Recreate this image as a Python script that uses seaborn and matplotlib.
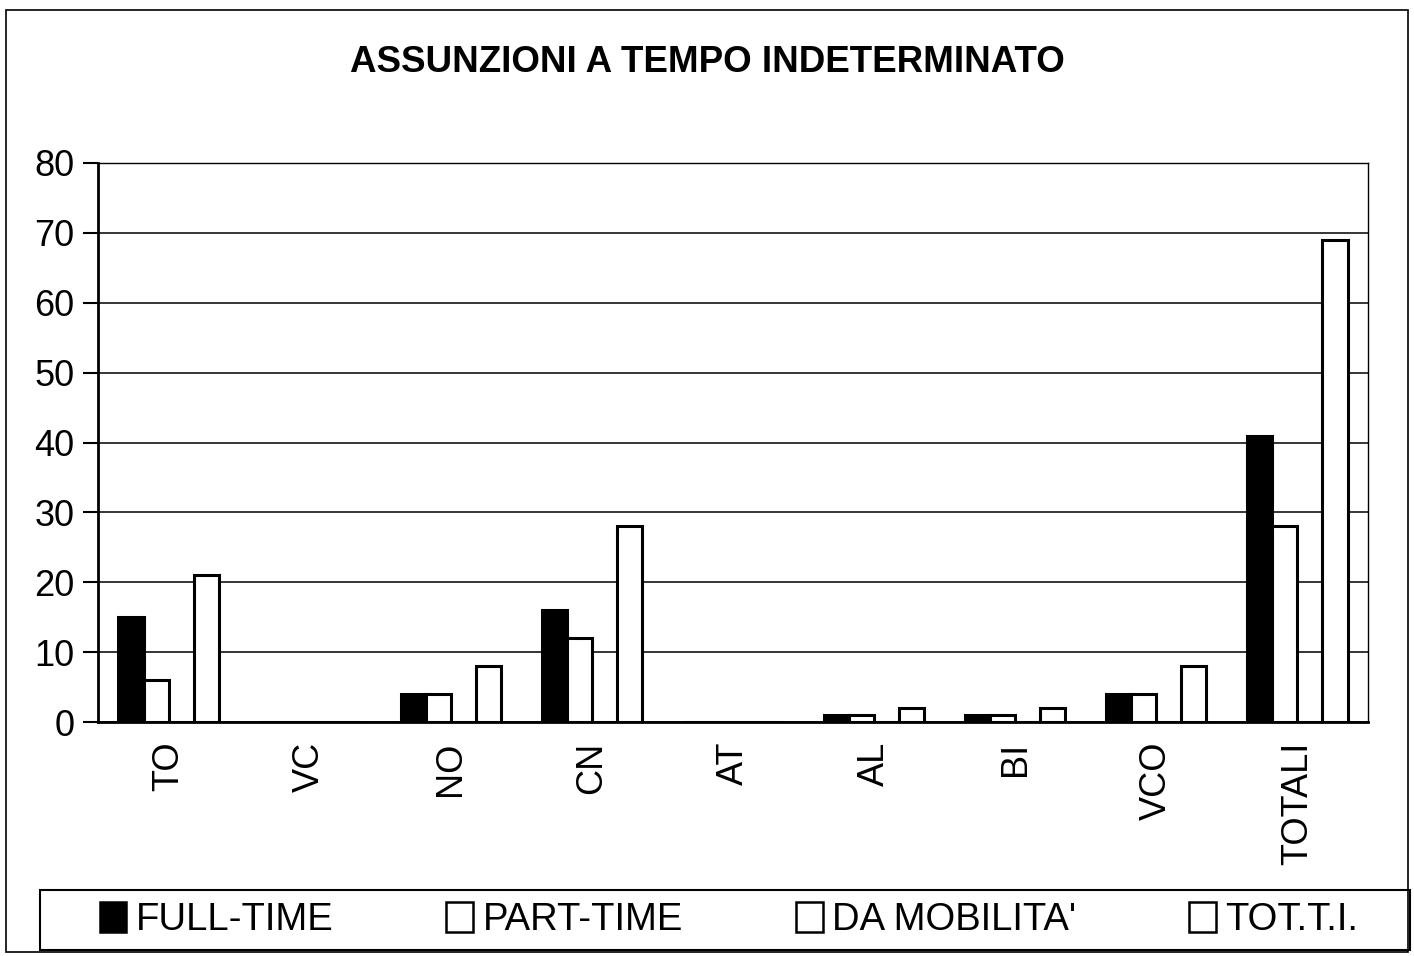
import seaborn as sns
import matplotlib.pyplot as plt
import matplotlib.patches as mpatches
import pandas as pd
import numpy as np

# dati
categorie = ["TO", "VC", "NO", "CN", "AT", "AL", "BI", "VCO", "TOTALI"]
full_time = [15, 0, 4, 16, 0, 1, 1, 4, 41]
part_time = [6, 0, 4, 12, 0, 1, 1, 4, 28]
da_mobilita = [0, 0, 0, 0, 0, 0, 0, 0, 0]
tot_ti = [21, 0, 8, 28, 0, 2, 2, 8, 69]
serie = ["FULL-TIME", "PART-TIME", "DA MOBILITA'", "TOT.T.I."]

df = pd.DataFrame({
    "prov": categorie * 4,
    "serie": np.repeat(serie, len(categorie)),
    "valore": full_time + part_time + da_mobilita + tot_ti,
})

sns.set_style("white")
plt.rcParams["font.family"] = ["Liberation Sans", "DejaVu Sans"]
plt.rcParams["text.color"] = "black"
plt.rcParams["xtick.color"] = "black"
plt.rcParams["ytick.color"] = "black"

fig = plt.figure(figsize=(14.14, 9.56), dpi=100)
ax = fig.add_axes([98 / 1414, 1 - 722 / 956, (1368 - 98) / 1414, (722 - 163) / 956])

sns.barplot(data=df, x="prov", y="valore", hue="serie", hue_order=serie,
            palette=["black", "white", "white", "white"], width=0.71,
            edgecolor="black", linewidth=2.2, ax=ax, legend=False, zorder=3)

ax.set_ylim(0, 80)
ax.set_xlim(-0.5, len(categorie) - 0.5)
ax.set_yticks(range(0, 81, 10))
ax.yaxis.grid(True, color="black", linewidth=1.1, zorder=0)
ax.set_axisbelow(True)
ax.set_xlabel("")
ax.set_ylabel("")

ax.set_xticks(range(len(categorie)))
ax.set_xticklabels(categorie, rotation=90, fontsize=26)
ax.set_xticks(np.arange(-0.5, len(categorie), 1), minor=True)
ax.tick_params(axis="x", which="major", length=0, pad=14)
ax.tick_params(axis="x", which="minor", length=10, width=1.5, color="black", direction="out")
ax.tick_params(axis="y", length=11, width=1.5, color="black", direction="out", labelsize=26, pad=6)
ax.tick_params(bottom=True, left=True)

for s in ["left", "bottom"]:
    ax.spines[s].set_color("black")
    ax.spines[s].set_linewidth(2)
for s in ["top", "right"]:
    ax.spines[s].set_color("black")
    ax.spines[s].set_linewidth(1)

fig.text(0.5, 1 - 62 / 956, "ASSUNZIONI A TEMPO INDETERMINATO", ha="center", va="center",
         fontsize=26.5, fontweight="bold")

# riquadro della legenda
fig.patches.append(mpatches.Rectangle((40 / 1414, 1 - 950 / 956), (1410 - 40) / 1414, 60 / 956,
                                      transform=fig.transFigure, fill=False,
                                      edgecolor="black", linewidth=1.5))

handles = [mpatches.Patch(facecolor=c, edgecolor="black", linewidth=1.8)
           for c in ["black", "white", "white", "white"]]
ax.legend(handles, serie, loc="center", ncol=4, mode="expand",
          bbox_to_anchor=(92 / 1414, 1 - 950 / 956, (1366 - 92) / 1414, 60 / 956),
          bbox_transform=fig.transFigure, fontsize=27.5, frameon=False,
          handlelength=0.7, handleheight=0.85, handletextpad=0.25,
          borderaxespad=0, borderpad=0.2)

# bordo esterno del grafico
fig.patches.append(mpatches.Rectangle((6 / 1414, 4 / 956), 1402 / 1414, 942 / 956,
                                      transform=fig.transFigure, fill=False,
                                      edgecolor="black", linewidth=1.2))

plt.savefig("out.png", dpi=100)
